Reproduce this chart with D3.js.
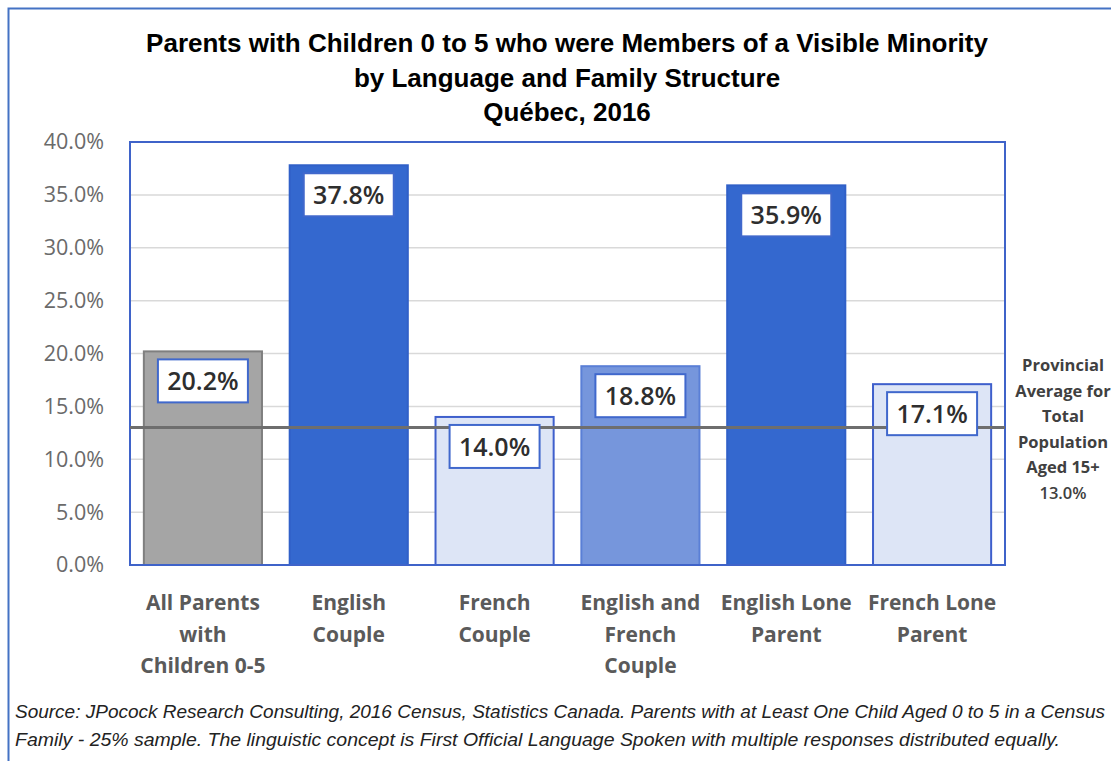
<!DOCTYPE html>
<html>
<head>
<meta charset="utf-8">
<script src="https://cdn.jsdelivr.net/npm/d3@7"></script>
<style>
  html, body { margin: 0; padding: 0; background: #ffffff; }
  svg { display: block; }
</style>
</head>
<body>
<script>
// ---- data ----
const categories = [
  ["All Parents", "with", "Children 0-5"],
  ["English", "Couple"],
  ["French", "Couple"],
  ["English and", "French", "Couple"],
  ["English Lone", "Parent"],
  ["French Lone", "Parent"]
];
const values = [20.2, 37.8, 14.0, 18.8, 35.9, 17.1];
const barFills = ["#a5a5a5", "#3468cf", "#dde5f6", "#7696dc", "#3468cf", "#dde5f6"];
const barStrokes = ["#7f7f7f", "#3060c8", "#3e5fcc", "#5a7fd6", "#3060c8", "#3e5fcc"];
const yTicks = [0, 5, 10, 15, 20, 25, 30, 35, 40];
const provincialAvg = 13.0;
const titleLines = [
  "Parents with Children 0 to 5 who were Members of a Visible Minority",
  "by Language and Family Structure",
  "Québec, 2016"
];
const annotationLines = ["Provincial", "Average for", "Total", "Population", "Aged 15+", "13.0%"];
const sourceLines = [
  "Source: JPocock Research Consulting, 2016 Census, Statistics Canada. Parents with at Least One Child Aged 0 to 5 in a Census",
  "Family - 25% sample. The linguistic concept is First Official Language Spoken with multiple responses distributed equally."
];

// ---- layout ----
const W = 1111, H = 761;
const plot = { left: 130, right: 1005, top: 142, bottom: 565 };

const svg = d3.select("body").append("svg").attr("width", W).attr("height", H);

// outer frame
svg.append("rect").attr("x", 8.5).attr("y", 8.5).attr("width", 1200).attr("height", 900)
  .attr("fill", "#ffffff").attr("stroke", "#4472c4").attr("stroke-width", 2);

// title
const narrow = "'Liberation Sans Narrow', 'Arial Narrow', 'Liberation Sans', sans-serif";
svg.append("g").selectAll("text").data(titleLines).join("text")
  .attr("x", 567).attr("y", (d, i) => 52 + i * 34.5)
  .attr("text-anchor", "middle")
  .style("font-family", narrow).style("font-weight", "bold").style("font-size", "26px")
  .attr("fill", "#000000")
  .text(d => d);

const x = d3.scaleBand().domain(d3.range(categories.length))
  .range([plot.left, plot.right]).paddingInner(0.19).paddingOuter(0.095);
const y = d3.scaleLinear().domain([0, 40]).range([plot.bottom, plot.top]);

// gridlines
svg.append("g").selectAll("line").data(yTicks.slice(1, -1)).join("line")
  .attr("x1", plot.left).attr("x2", plot.right)
  .attr("y1", d => y(d)).attr("y2", d => y(d))
  .attr("stroke", "#d9d9d9").attr("stroke-width", 1.5);

// y axis
const yAxis = d3.axisLeft(y).tickValues(yTicks).tickFormat(d => d.toFixed(1) + "%").tickSize(0).tickPadding(0);
const yg = svg.append("g").attr("transform", `translate(104,0)`).call(yAxis);
yg.select(".domain").remove();
yg.selectAll("text").style("font-family", "'Open Sans', sans-serif").style("font-size", "21.5px")
  .attr("fill", "#6a6a6a");

// bars
svg.append("g").selectAll("rect").data(values).join("rect")
  .attr("x", (d, i) => x(i)).attr("width", x.bandwidth())
  .attr("y", d => y(d)).attr("height", d => y(0) - y(d))
  .attr("fill", (d, i) => barFills[i]).attr("stroke", (d, i) => barStrokes[i]).attr("stroke-width", 2);

// plot area border
svg.append("rect").attr("x", plot.left).attr("y", plot.top)
  .attr("width", plot.right - plot.left).attr("height", plot.bottom - plot.top)
  .attr("fill", "none").attr("stroke", "#3f63c9").attr("stroke-width", 2);

// provincial average line
svg.append("line").attr("x1", plot.left).attr("x2", plot.right)
  .attr("y1", y(provincialAvg)).attr("y2", y(provincialAvg))
  .attr("stroke", "#6e6e6e").attr("stroke-width", 3);

// value labels
const lab = svg.append("g").selectAll("g").data(values).join("g")
  .attr("transform", (d, i) => `translate(${x(i) + x.bandwidth() / 2},${y(d) + 8})`);
lab.append("rect").attr("x", -45).attr("y", 0).attr("width", 90).attr("height", 43)
  .attr("fill", "#ffffff").attr("stroke", "#4068cc").attr("stroke-width", 2);
lab.append("text").attr("x", 0).attr("y", 31).attr("text-anchor", "middle")
  .style("font-family", "'Open Sans', sans-serif").style("font-weight", "600").style("font-size", "25px")
  .attr("fill", "#2e2e2e")
  .text(d => d.toFixed(1) + "%");

// x category labels
const xl = svg.append("g").selectAll("text").data(categories).join("text")
  .attr("text-anchor", "middle")
  .style("font-family", "'Open Sans', sans-serif").style("font-weight", "bold").style("font-size", "21px")
  .attr("fill", "#5a5a5a");
xl.each(function (lines, i) {
  d3.select(this).selectAll("tspan").data(lines).join("tspan")
    .attr("x", x(i) + x.bandwidth() / 2).attr("y", (d, j) => 610 + j * 31.5)
    .text(d => d);
});

// annotation
svg.append("g").selectAll("text").data(annotationLines).join("text")
  .attr("x", 1063).attr("y", (d, i) => 371 + i * 25.5)
  .attr("text-anchor", "middle")
  .style("font-family", "'Open Sans', sans-serif").style("font-weight", (d, i) => i === 5 ? "600" : "bold")
  .style("font-size", "16.5px")
  .attr("fill", "#404040")
  .text(d => d);

// source
svg.append("g").selectAll("text").data(sourceLines).join("text")
  .attr("x", 15).attr("y", (d, i) => 718 + i * 28)
  .attr("textLength", (d, i) => i === 0 ? 1090 : 1045).attr("lengthAdjust", "spacingAndGlyphs")
  .style("font-family", narrow).style("font-style", "italic").style("font-size", "19px")
  .attr("fill", "#222222")
  .text(d => d);
</script>
</body>
</html>
